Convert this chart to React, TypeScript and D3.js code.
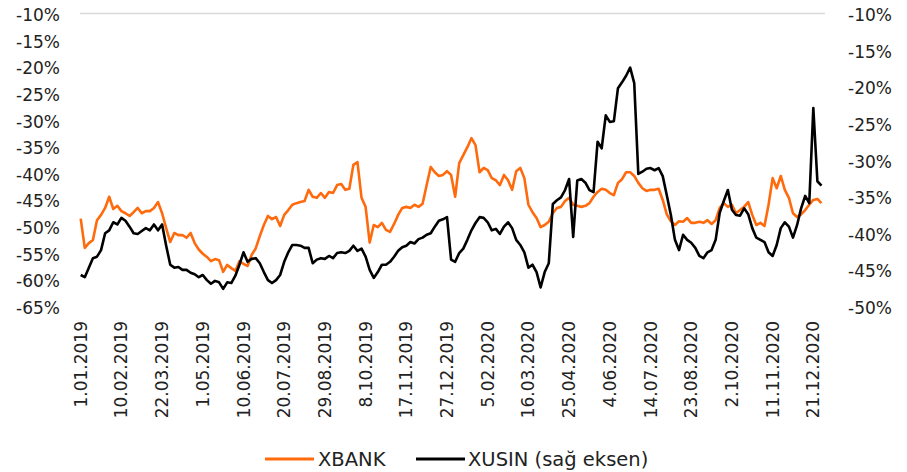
import * as d3 from "d3";

const width = 907;
const height = 472;

// first observation and spacing (days) of the sampled series
const startDate = new Date(2019, 0, 1);
const stepDays = 4;

// XBANK, % (left axis)
const xbank = [
  -48.5, -54.0, -53.1, -52.5, -48.8, -47.8, -46.5, -44.4, -46.7, -46.1,
  -47.1, -47.5, -48.0, -47.3, -46.5, -47.5, -47.1, -47.1, -46.5, -45.4,
  -47.5, -50.3, -52.9, -51.2, -51.6, -51.6, -52.1, -51.2, -53.1, -54.3,
  -55.1, -55.7, -56.5, -56.1, -56.3, -58.5, -57.2, -57.8, -58.3, -56.5,
  -57.0, -57.4, -55.3, -54.1, -51.8, -49.7, -48.0, -48.6, -48.2, -49.9,
  -47.8, -46.9, -45.9, -45.6, -45.4, -45.2, -43.1, -44.4, -44.6, -43.7,
  -44.6, -43.5, -43.7, -42.2, -42.0, -43.1, -42.9, -38.4, -37.9, -44.6,
  -46.3, -53.0, -49.7, -50.1, -49.3, -50.6, -51.0, -49.5, -47.8, -46.5,
  -46.3, -46.5, -45.9, -46.3, -45.7, -42.2, -38.8, -39.8, -40.5, -40.3,
  -39.6, -40.3, -44.4, -38.1, -36.6, -35.1, -33.4, -34.7, -39.8, -39.0,
  -39.4, -40.9, -41.3, -42.2, -40.3, -41.3, -43.1, -39.6, -39.0, -40.9,
  -45.9, -47.3, -48.4, -50.1, -49.7, -49.1, -47.5, -46.5, -46.3, -45.2,
  -44.6, -45.9, -46.1, -46.3, -46.1, -45.6, -44.4, -43.5, -42.9, -43.1,
  -43.7, -44.1, -41.8, -41.1, -39.8, -39.8, -40.5, -41.8, -42.8, -43.3,
  -43.1, -43.1, -42.9, -45.0, -47.7, -49.0, -49.7, -49.0, -49.1, -48.4,
  -49.3, -49.3, -49.1, -49.3, -48.8, -49.5, -48.8, -46.5, -45.6, -46.3,
  -45.9, -47.5, -46.9, -46.3, -45.4, -47.8, -49.7, -49.3, -49.9, -45.9,
  -40.9, -42.8, -40.5, -43.1, -44.6, -47.5, -48.2, -47.7, -46.9, -45.9,
  -45.0, -44.8, -45.6,
];

// XUSIN, % (right axis)
const xusin = [
  -45.7, -46.0, -44.7, -43.4, -43.2, -42.3, -40.0, -39.6, -38.5, -38.8,
  -37.9, -38.3, -39.1, -40.0, -40.1, -39.7, -39.3, -39.6, -38.8, -39.6,
  -38.8, -41.7, -44.3, -44.7, -44.6, -45.0, -45.0, -45.4, -45.6, -46.0,
  -45.7, -46.4, -46.9, -46.5, -46.7, -47.6, -46.7, -46.8, -45.8, -44.3,
  -42.6, -43.9, -43.5, -43.4, -44.1, -45.3, -46.4, -46.8, -46.4, -45.7,
  -43.9, -42.6, -41.6, -41.6, -41.7, -42.0, -42.0, -44.1, -43.6, -43.4,
  -43.5, -43.1, -43.4, -42.7, -42.6, -42.7, -42.4, -41.7, -42.4, -42.1,
  -43.2, -45.0, -46.1, -45.3, -44.3, -44.3, -43.9, -43.2, -42.4, -41.9,
  -41.7, -41.2, -41.4, -40.8, -40.6, -40.2, -40.0, -39.1, -38.3, -38.1,
  -37.8, -43.6, -43.9, -42.7, -42.1, -40.9, -39.6, -38.6, -37.8, -37.9,
  -38.5, -39.6, -39.4, -40.1, -39.1, -38.5, -39.3, -40.9, -41.6, -42.6,
  -44.7, -44.3, -45.3, -47.4, -45.3, -44.1, -36.0, -35.5, -35.1, -34.1,
  -32.6, -40.5, -32.8, -32.6, -33.1, -34.1, -34.4, -27.5, -28.4, -23.9,
  -24.8, -24.7, -20.2, -19.4, -18.5, -17.4, -19.5, -31.9, -31.6, -31.2,
  -31.1, -31.4, -31.1, -32.2, -34.8, -37.5, -40.9, -42.3, -40.2, -40.9,
  -41.3, -42.0, -43.1, -43.4, -42.6, -42.3, -40.9, -37.2, -35.6, -34.1,
  -36.8, -37.5, -37.6, -36.6, -37.4, -39.3, -40.6, -40.9, -41.2, -42.6,
  -43.1, -41.6, -39.3, -38.5, -39.1, -40.6, -38.9, -36.6, -34.9, -35.9,
  -22.9, -32.9, -33.5,
];

const xTickLabels = [
  "1.01.2019", "10.02.2019", "22.03.2019", "1.05.2019", "10.06.2019",
  "20.07.2019", "29.08.2019", "8.10.2019", "17.11.2019", "27.12.2019",
  "5.02.2020", "16.03.2020", "25.04.2020", "4.06.2020", "14.07.2020",
  "23.08.2020", "2.10.2020", "11.11.2020", "21.12.2020",
];
const leftTicks = [-10, -15, -20, -25, -30, -35, -40, -45, -50, -55, -60, -65];
const rightTicks = [-10, -15, -20, -25, -30, -35, -40, -45, -50];

const seriesNames = ["XBANK", "XUSIN (sağ eksen)"];
const seriesColors = ["#ff6a0d", "#000000"];

const font = "DejaVu Sans, sans-serif";

export default function App() {
  const parse = d3.timeParse("%d.%m.%Y");

  const x = d3
    .scaleTime()
    .domain([new Date(2019, 0, 1), new Date(2020, 11, 31)])
    .range([80.7, 823.5]);
  const yLeft = d3.scaleLinear().domain([-65, -10]).range([306.5, 13.5]);
  const yRight = d3.scaleLinear().domain([-50, -10]).range([306.5, 13.5]);

  const dateAt = (i: number) => d3.timeDay.offset(startDate, i * stepDays);

  const lineLeft = d3
    .line<number>()
    .x((_, i) => x(dateAt(i)))
    .y((d) => yLeft(d));
  const lineRight = d3
    .line<number>()
    .x((_, i) => x(dateAt(i)))
    .y((d) => yRight(d));

  return (
    <svg
      width={width}
      height={height}
      style={{ position: "absolute", left: 0, top: 0, background: "#fff" }}
      fontFamily={font}
    >
      {/* top gridline */}
      <line x1={80} x2={825} y1={yLeft(-10)} y2={yLeft(-10)} stroke="#d9d9d9" strokeWidth={1.5} />

      {/* left axis */}
      {leftTicks.map((t) => (
        <text key={t} x={60} y={yLeft(t) + 1.5} textAnchor="end" dominantBaseline="central" fontSize={17} fill="#222">
          {`${t}%`}
        </text>
      ))}

      {/* right axis */}
      {rightTicks.map((t) => (
        <text key={t} x={848} y={yRight(t) + 1.5} textAnchor="start" dominantBaseline="central" fontSize={17} fill="#222">
          {`${t}%`}
        </text>
      ))}

      {/* x axis labels */}
      {xTickLabels.map((lab) => {
        const px = x(parse(lab) as Date);
        return (
          <text
            key={lab}
            transform={`translate(${px},321) rotate(-90)`}
            textAnchor="end"
            dominantBaseline="central"
            fontSize={17}
            fill="#222"
          >
            {lab}
          </text>
        );
      })}

      {/* series */}
      <path d={lineLeft(xbank) ?? ""} fill="none" stroke={seriesColors[0]} strokeWidth={2.6} strokeLinejoin="round" />
      <path d={lineRight(xusin) ?? ""} fill="none" stroke={seriesColors[1]} strokeWidth={2.6} strokeLinejoin="round" />

      {/* legend */}
      <g>
        <line x1={265} x2={314} y1={459} y2={459} stroke={seriesColors[0]} strokeWidth={3} />
        <text x={318} y={459} dominantBaseline="central" fontSize={19.5} fill="#222">
          {seriesNames[0]}
        </text>
        <line x1={416} x2={465} y1={459} y2={459} stroke={seriesColors[1]} strokeWidth={3} />
        <text x={468} y={459} dominantBaseline="central" fontSize={19.5} fill="#222">
          {seriesNames[1]}
        </text>
      </g>
    </svg>
  );
}
